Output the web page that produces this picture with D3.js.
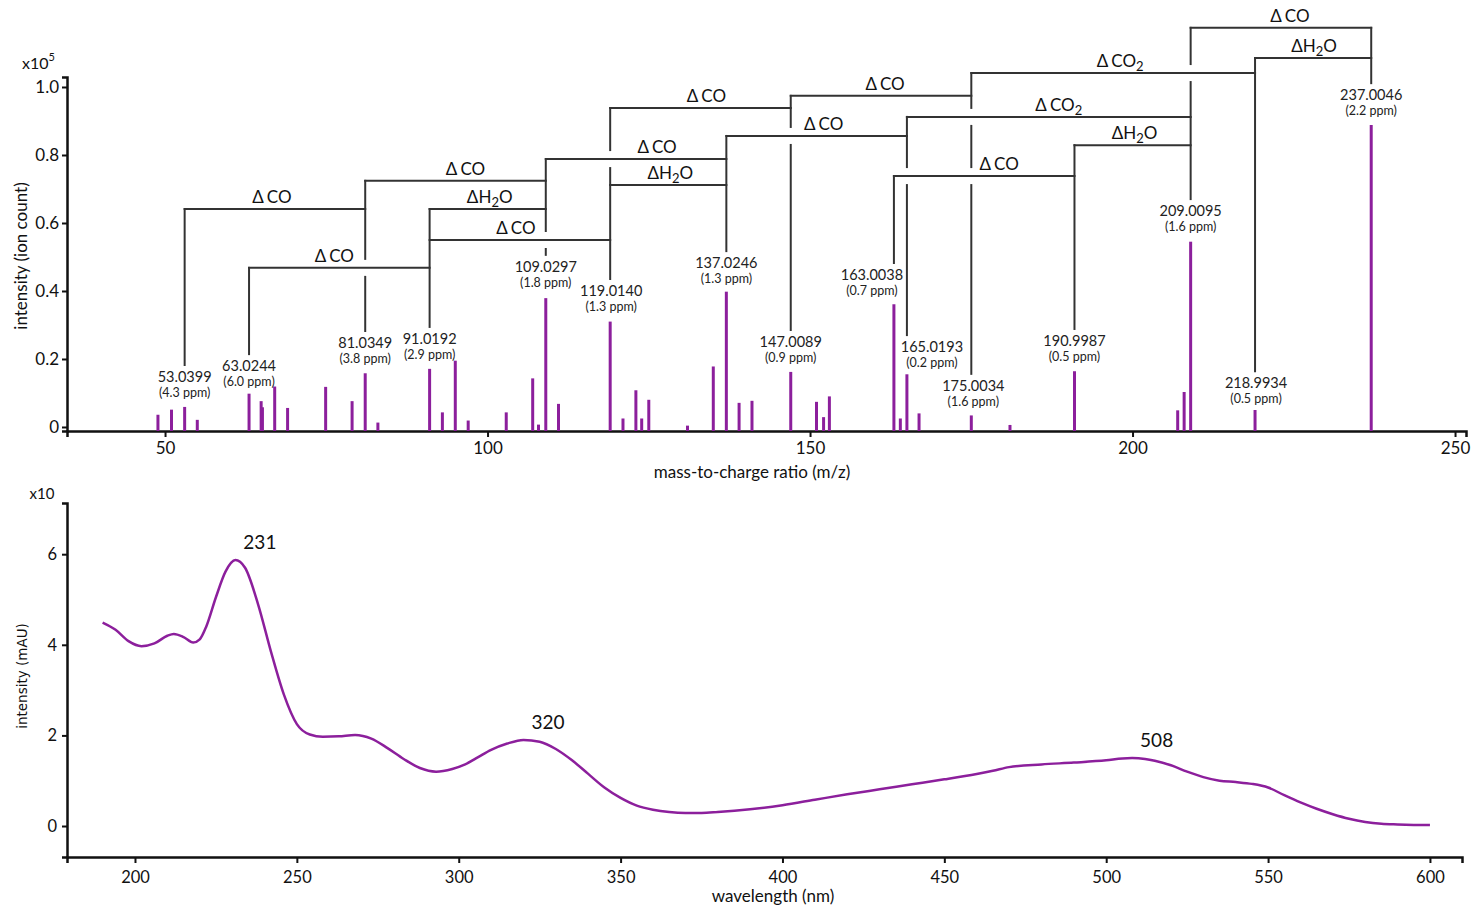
<!DOCTYPE html>
<html>
<head>
<meta charset="utf-8">
<script src="https://cdn.jsdelivr.net/npm/d3@7"></script>
<style>
body { margin: 0; background: #fff; }
text { font-family: Lato, "Open Sans", sans-serif; }
</style>
</head>
<body>
<script>
// ---- mass spectrum: annotated peaks ----
const labeledMz = [53.0399, 63.0244, 81.0349, 91.0192, 109.0297, 119.0140, 137.0246, 147.0089,
                   163.0038, 165.0193, 175.0034, 190.9987, 209.0095, 218.9934, 237.0046];
const labeledInt = [0.059, 0.098, 0.158, 0.171, 0.379, 0.310, 0.398, 0.162,
                    0.361, 0.155, 0.034, 0.164, 0.545, 0.050, 0.888];
const labeledPpm = ['4.3', '6.0', '3.8', '2.9', '1.8', '1.3', '1.3', '0.9',
                    '0.7', '0.2', '1.6', '0.5', '1.6', '0.5', '2.2'];

// ---- mass spectrum: other peaks ----
const minorMz = [48.9, 51.0, 55.0, 64.9, 65.1, 67.0, 69.0, 74.9, 79.0, 83.0, 93.0, 95.0, 97.0,
                 102.9, 107.0, 107.9, 111.0, 121.0, 123.0, 123.9, 125.0, 131.0, 135.0, 139.0, 141.0,
                 151.0, 152.1, 153.0, 164.0, 166.9, 181.0, 207.0, 208.0];
const minorInt = [0.036, 0.051, 0.021, 0.076, 0.058, 0.119, 0.056, 0.118, 0.076, 0.013, 0.043, 0.195, 0.019,
                  0.043, 0.143, 0.007, 0.068, 0.025, 0.108, 0.025, 0.080, 0.004, 0.178, 0.071, 0.077,
                  0.074, 0.029, 0.090, 0.025, 0.040, 0.006, 0.049, 0.103];

// ---- neutral losses between fragment ions ----
const lossLow  = [53.0399, 63.0244, 81.0349, 91.0192, 91.0192, 109.0297, 119.0140, 119.0140,
                  137.0246, 147.0089, 163.0038, 165.0193, 190.9987, 175.0034, 209.0095, 218.9934];
const lossHigh = [81.0349, 91.0192, 109.0297, 109.0297, 119.0140, 137.0246, 137.0246, 147.0089,
                  165.0193, 175.0034, 190.9987, 209.0095, 209.0095, 218.9934, 237.0046, 237.0046];
const lossName = ['CO', 'CO', 'CO', 'H2O', 'CO', 'CO', 'H2O', 'CO',
                  'CO', 'CO', 'CO', 'CO2', 'H2O', 'CO2', 'CO', 'H2O'];

// bracket heights and label placement (in intensity units / pixels)
const lossLevel = [0.641, 0.468, 0.724, 0.641, 0.550, 0.788, 0.712, 0.938,
                   0.856, 0.974, 0.738, 0.912, 0.829, 1.041, 1.174, 1.085];
const lossShift = [-3, -5, 10, 2, -4, 21, 2, 6, 7, 4, 15, 10, 2, 7, 9, 1];
const labelLevel = [0.147, 0.179, 0.247, 0.259, 0.471, 0.400, 0.482, 0.250,
                    0.447, 0.235, 0.121, 0.253, 0.635, 0.129, 0.976];
const labelShift = [0, 0, 0, 0, 0, 1, 0, 0, -22, 25, 2, 0, 0, 1, 0];

const mzTicks = [50, 100, 150, 200, 250];
const intTicks = [0, 0.2, 0.4, 0.6, 0.8, 1.0];

// ---- UV-vis spectrum ----
const uvWl = [190, 194, 198, 202, 206, 210, 212, 215, 218, 220, 222, 225, 228, 231, 234, 238, 242, 246,
              250, 254, 258, 263, 268, 273, 278, 283, 288, 293, 298, 302, 306, 310, 315, 320, 325, 330,
              335, 340, 345, 350, 355, 360, 365, 370, 375, 380, 390, 400, 410, 420, 430, 440, 450, 460,
              465, 470, 480, 490, 500, 505, 508, 512, 515, 520, 525, 530, 535, 540, 545, 550, 555, 560,
              565, 570, 575, 580, 585, 590, 595, 600];
const uvInt = [4.49, 4.33, 4.08, 3.97, 4.03, 4.20, 4.24, 4.17, 4.05, 4.12, 4.40, 5.05, 5.62, 5.87, 5.70, 4.90, 3.85, 2.90,
               2.25, 2.02, 1.97, 1.98, 2.01, 1.93, 1.72, 1.48, 1.28, 1.20, 1.26, 1.36, 1.52, 1.68, 1.82, 1.90, 1.86, 1.70,
               1.45, 1.15, 0.85, 0.62, 0.45, 0.36, 0.31, 0.29, 0.29, 0.31, 0.37, 0.46, 0.58, 0.70, 0.81, 0.92, 1.03, 1.15,
               1.22, 1.30, 1.36, 1.40, 1.45, 1.49, 1.50, 1.48, 1.44, 1.34, 1.20, 1.08, 1.00, 0.97, 0.93, 0.85, 0.68, 0.52,
               0.38, 0.26, 0.16, 0.09, 0.05, 0.035, 0.025, 0.02];
const uvPeaks = [231, 320, 508];
const wlTicks = [200, 250, 300, 350, 400, 450, 500, 550, 600];
const uvTicks = [0, 2, 4, 6];

const purple = '#8c1f9c';
const ink = '#111';
const bracketInk = '#333';

const svg = d3.select('body').append('svg')
    .attr('width', 1476)
    .attr('height', 909);

showMassSpectrum();
showUvSpectrum();

function styleAxis(axis, size) {
    axis.attr('font-size', size).attr('font-family', 'Lato, "Open Sans", sans-serif');
    axis.select('.domain').attr('stroke', ink).attr('stroke-width', 2.5);
    axis.selectAll('.tick line').attr('stroke', ink).attr('stroke-width', 2);
    axis.selectAll('.tick text').attr('fill', ink);
}

function addFormula(text, name) {
    text.append('tspan').text('\u0394');
    if (name === 'H2O') {
        text.append('tspan').text('H');
        text.append('tspan').attr('font-size', 13).attr('dy', 4).text('2');
        text.append('tspan').attr('dy', -4).text('O');
    } else if (name === 'CO2') {
        text.append('tspan').attr('dx', 3).text('CO');
        text.append('tspan').attr('font-size', 13).attr('dy', 4).text('2');
    } else {
        text.append('tspan').attr('dx', 3).text('CO');
    }
}

function showMassSpectrum() {
    const x = d3.scaleLinear().domain([34.8, 251.7]).range([67, 1466]);
    const y = d3.scaleLinear().domain([-0.0118, 1.0294]).range([431, 77]);
    const g = svg.append('g');

    // axes
    const xAxis = g.append('g')
        .attr('transform', `translate(0, ${y.range()[0]})`)
        .call(d3.axisBottom(x).tickValues(mzTicks).tickSizeOuter(0).tickSize(6).tickPadding(5));
    styleAxis(xAxis, 17);

    const yAxis = g.append('g')
        .attr('transform', `translate(${x.range()[0]}, 0)`)
        .call(d3.axisLeft(y).tickValues(intTicks).tickSizeOuter(0).tickSize(5).tickPadding(3)
            .tickFormat(d => d === 0 ? '0' : d.toFixed(1)));
    styleAxis(yAxis, 17);

    g.append('text')
        .attr('x', 752).attr('y', 478)
        .attr('text-anchor', 'middle').attr('font-size', 17).attr('fill', ink)
        .text('mass-to-charge ratio (m/z)');
    g.append('text')
        .attr('transform', 'translate(27, 256) rotate(-90)')
        .attr('text-anchor', 'middle').attr('font-size', 17).attr('fill', ink)
        .text('intensity (ion count)');
    const unit = g.append('text')
        .attr('x', 22).attr('y', 69).attr('font-size', 16).attr('fill', ink)
        .text('x10');
    unit.append('tspan').attr('font-size', 11).attr('dy', -8).text('5');

    // peaks
    const base = y.range()[0];
    g.selectAll('line.minor')
        .data(minorMz)
        .enter()
        .append('line')
        .attr('class', 'minor')
        .attr('x1', d => x(d)).attr('x2', d => x(d))
        .attr('y1', base).attr('y2', (d, i) => y(minorInt[i]))
        .attr('stroke', purple).attr('stroke-width', 3);

    g.selectAll('line.major')
        .data(labeledMz)
        .enter()
        .append('line')
        .attr('class', 'major')
        .attr('x1', d => x(d)).attr('x2', d => x(d))
        .attr('y1', base).attr('y2', (d, i) => y(labeledInt[i]))
        .attr('stroke', purple).attr('stroke-width', 3);

    // peak labels
    labeledMz.forEach((mz, i) => {
        const lx = x(mz) + labelShift[i];
        const ly = y(labelLevel[i]);
        g.append('text')
            .attr('x', lx).attr('y', ly + 5)
            .attr('text-anchor', 'middle').attr('font-size', 14.5).attr('fill', '#222')
            .text(mz.toFixed(4));
        g.append('text')
            .attr('x', lx).attr('y', ly + 20)
            .attr('text-anchor', 'middle').attr('font-size', 12.5).attr('fill', '#222')
            .text(`(${labeledPpm[i]} ppm)`);
    });

    // horizontal brackets
    const brackets = g.append('g')
        .attr('stroke', bracketInk).attr('stroke-width', 2).attr('stroke-linecap', 'square');
    lossLow.forEach((lo, i) => {
        brackets.append('line')
            .attr('x1', x(lo)).attr('x2', x(lossHigh[i]))
            .attr('y1', y(lossLevel[i])).attr('y2', y(lossLevel[i]));
    });

    // vertical drops from brackets to each labelled peak, broken where another bracket crosses
    labeledMz.forEach((mz, i) => {
        const px = x(mz);
        const own = lossLevel.filter((lv, k) => lossLow[k] === mz || lossHigh[k] === mz);
        if (!own.length) return;
        const top = d3.min(own, lv => y(lv));
        const bottom = y(labelLevel[i]) - 12;
        const cuts = lossLevel
            .map((lv, k) => ({yy: y(lv), lo: x(lossLow[k]), hi: x(lossHigh[k])}))
            .filter(c => c.lo < px - 1 && c.hi > px + 1 && c.yy > top && c.yy < bottom)
            .map(c => c.yy)
            .sort((a, b) => a - b);
        let cur = top;
        cuts.forEach(c => {
            brackets.append('line').attr('x1', px).attr('x2', px).attr('y1', cur).attr('y2', c - 9);
            cur = c + 9;
        });
        brackets.append('line').attr('x1', px).attr('x2', px).attr('y1', cur).attr('y2', bottom);
    });

    // loss labels
    lossLow.forEach((lo, i) => {
        const t = g.append('text')
            .attr('x', (x(lo) + x(lossHigh[i])) / 2 + lossShift[i])
            .attr('y', y(lossLevel[i]) - 6)
            .attr('text-anchor', 'middle').attr('font-size', 17).attr('fill', ink);
        addFormula(t, lossName[i]);
    });
}

function showUvSpectrum() {
    const x = d3.scaleLinear().domain([179, 609.9]).range([67, 1462]);
    const y = d3.scaleLinear().domain([-0.684, 7.13]).range([857, 503]);
    const g = svg.append('g');

    const xAxis = g.append('g')
        .attr('transform', `translate(0, ${y.range()[0]})`)
        .call(d3.axisBottom(x).tickValues(wlTicks).tickSizeOuter(0).tickSize(6).tickPadding(8));
    styleAxis(xAxis, 16.5);

    const yAxis = g.append('g')
        .attr('transform', `translate(${x.range()[0]}, 0)`)
        .call(d3.axisLeft(y).tickValues(uvTicks).tickSizeOuter(0).tickSize(5).tickPadding(5));
    styleAxis(yAxis, 16.5);

    g.append('text')
        .attr('x', 773).attr('y', 902)
        .attr('text-anchor', 'middle').attr('font-size', 17).attr('fill', ink)
        .text('wavelength (nm)');
    g.append('text')
        .attr('transform', 'translate(27, 676) rotate(-90)')
        .attr('text-anchor', 'middle').attr('font-size', 13.5).attr('fill', ink)
        .style('font-family', '"DejaVu Sans", sans-serif')
        .text('intensity (mAU)');
    g.append('text')
        .attr('x', 42).attr('y', 499)
        .attr('text-anchor', 'middle').attr('font-size', 15).attr('fill', ink)
        .text('x10');

    const line = d3.line()
        .x((d, i) => x(uvWl[i]))
        .y(d => y(d))
        .curve(d3.curveMonotoneX);

    g.append('path')
        .datum(uvInt)
        .attr('d', line)
        .attr('fill', 'none')
        .attr('stroke', purple)
        .attr('stroke-width', 2.5);

    g.selectAll('text.peak')
        .data(uvPeaks)
        .enter()
        .append('text')
        .attr('class', 'peak')
        .attr('x', d => x(d) + 8)
        .attr('y', d => y(uvInt[d3.minIndex(uvWl, w => Math.abs(w - d))]) - 11)
        .attr('font-size', 19).attr('fill', ink)
        .text(d => d);
}
</script>
</body>
</html>
